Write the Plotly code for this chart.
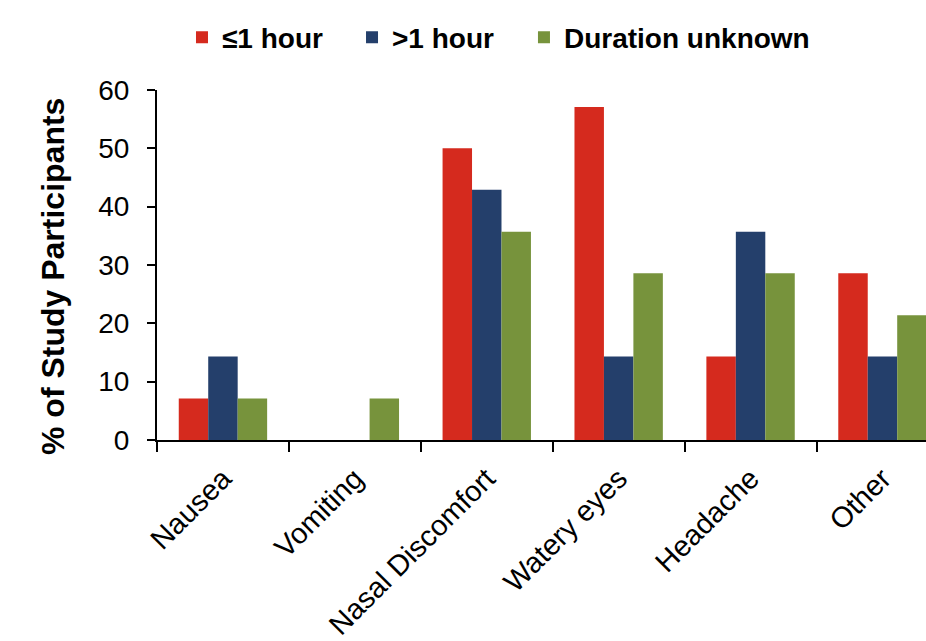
import plotly.graph_objects as go

categories = ["Nausea", "Vomiting", "Nasal Discomfort", "Watery eyes", "Headache", "Other"]
series_names = ["≤1 hour", ">1 hour", "Duration unknown"]
le_1_hour = [7.1, 0, 50.0, 57.1, 14.3, 28.6]
gt_1_hour = [14.3, 0, 42.9, 14.3, 35.7, 14.3]
unknown = [7.1, 7.1, 35.7, 28.6, 28.6, 21.4]
colors = ["#D52A1E", "#243F6B", "#77933C"]
legend_ids = ["legend", "legend2", "legend3"]
legend_x = [0.0325, 0.2536, 0.4772]

font_family = "Liberation Sans, Arial, sans-serif"

fig = go.Figure()
for name, vals, col, lid in zip(series_names, [le_1_hour, gt_1_hour, unknown], colors, legend_ids):
    fig.add_trace(go.Bar(x=categories, y=vals, name=name, legend=lid, showlegend=True,
                         marker=dict(color=col, line=dict(width=0))))

legend_style = dict(orientation="h", xanchor="left", y=1.15, yanchor="middle",
                    font=dict(size=28, family=font_family, color="black", weight="bold"),
                    itemwidth=30, bgcolor="rgba(0,0,0,0)", visible=True)

fig.update_layout(
    width=926, height=641,
    margin=dict(l=157, r=0, t=90, b=201),
    paper_bgcolor="white", plot_bgcolor="white",
    showlegend=True,
    barmode="group", bargap=0.33, bargroupgap=0,
    font=dict(family=font_family, color="black", size=26),
    legend=dict(x=legend_x[0], **legend_style),
    legend2=dict(x=legend_x[1], **legend_style),
    legend3=dict(x=legend_x[2], **legend_style),
    xaxis=dict(
        type="category", range=[-0.5, 5.33],
        showline=True, linecolor="black", linewidth=2,
        ticks="outside", ticklen=10, tickwidth=2, tickcolor="black",
        tickson="boundaries", tickangle=-45,
        ticklabelstandoff=8,
        tickfont=dict(size=29, family=font_family),
        showgrid=False, zeroline=False,
    ),
    yaxis=dict(
        range=[0, 60], dtick=10,
        showline=True, linecolor="black", linewidth=2,
        ticks="outside", ticklen=8, tickwidth=2, tickcolor="black",
        ticklabelstandoff=12,
        tickfont=dict(size=28, family=font_family),
        showgrid=False, zeroline=False,
    ),
)

# Vertical axis title
fig.add_annotation(text="<b>% of Study Participants</b>", textangle=-90,
                   xref="paper", yref="paper", x=-(157 - 53) / 769, y=(440 - 277) / 350,
                   xanchor="center", yanchor="middle", showarrow=False,
                   font=dict(size=32, family=font_family, color="black"))

fig.write_html("out.html")
